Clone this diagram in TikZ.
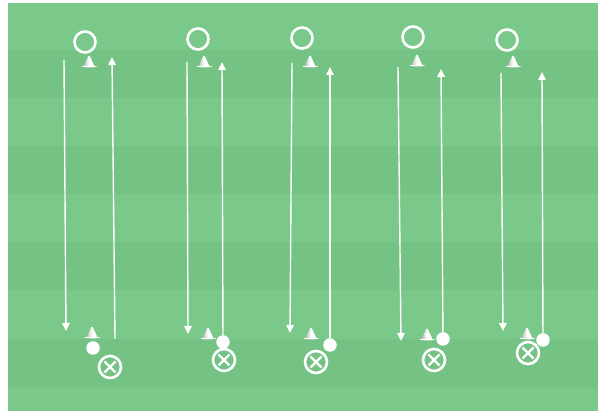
\documentclass[tikz,border=0pt]{standalone}
\usetikzlibrary{arrows.meta}
\definecolor{fieldlight}{RGB}{123,201,138}
\definecolor{fielddark}{RGB}{117,195,132}
\definecolor{conegray}{RGB}{165,165,165}
\tikzset{
  player/.style={circle, draw=white, line width=2.6pt, minimum size=21pt, inner sep=0pt},
  xplayer/.style={circle, draw=white, line width=2.6pt, minimum size=22pt, inner sep=0pt,
    path picture={\draw[white, line width=2.3pt]
      ([shift={(-5.5pt,-5.5pt)}]path picture bounding box.center) -- ++(11pt,11pt)
      ([shift={(-5.5pt,5.5pt)}]path picture bounding box.center) -- ++(11pt,-11pt);}},
  ball/.style={circle, fill=white, minimum size=13.5pt, inner sep=0pt},
  cone/.style={minimum width=15pt, minimum height=13pt, inner sep=0pt,
    path picture={
      \shade[left color=conegray, right color=white, middle color=white, rounded corners=1.5pt]
        ([xshift=1.5pt]path picture bounding box.south west) --
        (path picture bounding box.north) --
        ([xshift=-1.5pt]path picture bounding box.south east) -- cycle;
      \fill[white] ([yshift=1.8pt]path picture bounding box.south west) rectangle (path picture bounding box.south east);
    }},
  run/.style={draw=white, line width=1.4pt, -{Triangle[length=8pt,width=7.5pt]}}
}
\begin{document}
\begin{tikzpicture}[x=1pt,y=-1pt]
\useasboundingbox (0,0) rectangle (598,411);
\fill[white] (0,0) rectangle (598,411);
% field stripes
\fill[fieldlight] (8,3) rectangle (598,411);
\foreach \a/\b in {50/98,146/194,242/290,339/387}
  \fill[fielddark] (8,\a) rectangle (598,\b);

% ---------- group 1 ----------
\node[player] (o1) at (85,42) {};
\node[cone] (tc1) at (89,61) {};
\coordinate (d1s) at (64,60);
\coordinate (d1e) at (66,331);
\coordinate (u1s) at (115,339);
\coordinate (u1e) at (112,57);
\node[cone] (bc1) at (92,332) {};
\node[ball] (b1) at (93,348) {};
\node[xplayer] (x1) at (110,367) {};
\draw[run] (d1s) -- (d1e);
\draw[run] (u1s) -- (u1e);

% ---------- group 2 ----------
\node[player] (o2) at (198,39) {};
\node[cone] (tc2) at (204,61) {};
\coordinate (d2s) at (187,62);
\coordinate (d2e) at (188,334);
\coordinate (u2e) at (222,62);
\node[cone] (bc2) at (208,333) {};
\node[ball] (b2) at (223,342) {};
\node[xplayer] (x2) at (224,360) {};
\draw[run] (d2s) -- (d2e);
\draw[run] (b2) -- (u2e);

% ---------- group 3 ----------
\node[player] (o3) at (302,38) {};
\node[cone] (tc3) at (310,61) {};
\coordinate (d3s) at (292,63);
\coordinate (d3e) at (290,333);
\coordinate (u3e) at (330,67);
\node[cone] (bc3) at (311,333) {};
\node[ball] (b3) at (330,345) {};
\node[xplayer] (x3) at (316,362) {};
\draw[run] (d3s) -- (d3e);
\draw[run] (b3) -- (u3e);

% ---------- group 4 ----------
\node[player] (o4) at (413,37) {};
\node[cone] (tc4) at (417,60) {};
\coordinate (d4s) at (398,67);
\coordinate (d4e) at (401,341);
\coordinate (u4e) at (441,69);
\node[cone] (bc4) at (427,334) {};
\node[ball] (b4) at (443,339) {};
\node[xplayer] (x4) at (434,360) {};
\draw[run] (d4s) -- (d4e);
\draw[run] (b4) -- (u4e);

% ---------- group 5 ----------
\node[player] (o5) at (507,40) {};
\node[cone] (tc5) at (513,61) {};
\coordinate (d5s) at (501,73);
\coordinate (d5e) at (503,331);
\coordinate (u5e) at (542,72);
\node[cone] (bc5) at (527,333) {};
\node[ball] (b5) at (543,340) {};
\node[xplayer] (x5) at (528,353) {};
\draw[run] (d5s) -- (d5e);
\draw[run] (b5) -- (u5e);
\end{tikzpicture}
\end{document}
